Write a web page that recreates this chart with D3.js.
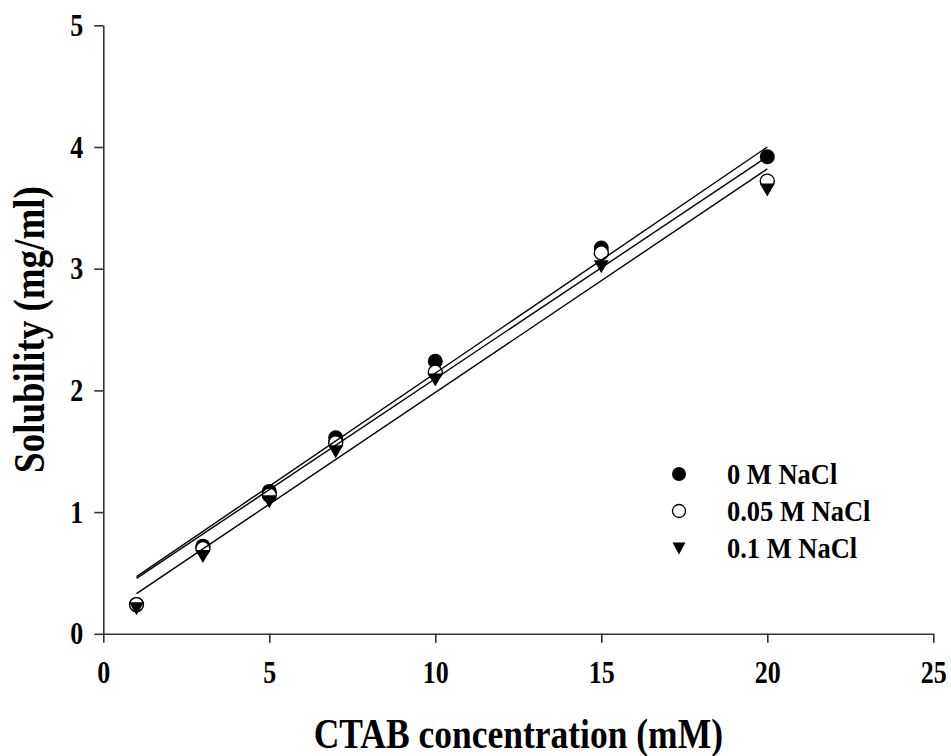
<!DOCTYPE html>
<html>
<head>
<meta charset="utf-8">
<script src="https://cdn.jsdelivr.net/npm/d3@7"></script>
<style>
  html, body { margin: 0; padding: 0; background: #fff; }
  svg { display: block; }
  text { font-family: "Liberation Serif", "Times New Roman", serif; font-weight: bold; fill: #000; }
</style>
</head>
<body>
<svg id="chart" width="951" height="756"></svg>
<script>
// CTAB concentration (mM)
const concentrations = [1, 3, 5, 7, 10, 15, 20];

// Solubility (mg/ml) per NaCl level
const solubility0M   = [0.24, 0.72, 1.17, 1.61, 2.24, 3.17, 3.92];
const solubility005M = [0.24, 0.70, 1.14, 1.57, 2.15, 3.13, 3.72];
const solubility01M  = [0.21, 0.64, 1.09, 1.50, 2.09, 3.02, 3.65];

// Linear fit lines: value at the first and last concentration
const fitX     = [1, 20];
const fitStart = [0.47, 0.455, 0.33];
const fitEnd   = [4.00, 3.92, 3.82];

const seriesNames = ["0 M NaCl", "0.05 M NaCl", "0.1 M NaCl"];
const seriesShapes = ["filled", "open", "triangle"];

const xTicks = [0, 5, 10, 15, 20, 25];
const yTicks = [0, 1, 2, 3, 4, 5];

// Glyphs are drawn a little taller than the stock serif face
const STRETCH = 1.18;

const svg = d3.select("#chart");

const x = d3.scaleLinear().domain([0, 25]).range([103.3, 933.3]);
const y = d3.scaleLinear().domain([0, 5]).range([633.8, 25.3]);

// Axes
const xAxis = svg.append("g")
  .attr("transform", `translate(0,${y(0)})`)
  .call(d3.axisBottom(x).tickValues(xTicks).tickFormat(d3.format("d")).tickSize(9).tickSizeOuter(0));
const yAxis = svg.append("g")
  .attr("transform", `translate(${x(0)},0)`)
  .call(d3.axisLeft(y).tickValues(yTicks).tickFormat(d3.format("d")).tickSize(9).tickSizeOuter(0));

[xAxis, yAxis].forEach(g => {
  g.select(".domain").attr("stroke", "#333").attr("stroke-width", 1.6);
  g.selectAll(".tick line").attr("stroke", "#333").attr("stroke-width", 1.6);
  g.selectAll(".tick text")
    .attr("fill", "#000")
    .attr("x", 0).attr("y", 0).attr("dy", null)
    .style("font-family", "'Liberation Serif', 'Times New Roman', serif")
    .style("font-weight", "bold")
    .style("font-size", "26px");
});
xAxis.selectAll(".tick text")
  .attr("transform", `translate(0,49) scale(1,${STRETCH})`);
yAxis.selectAll(".tick text")
  .attr("text-anchor", "end")
  .attr("transform", `translate(-20,10) scale(1,${STRETCH})`);

// Axis titles
svg.append("text")
  .attr("transform", `translate(${(x(0) + x(25)) / 2},748) scale(1,${STRETCH})`)
  .attr("text-anchor", "middle")
  .style("font-size", "35.5px")
  .text("CTAB concentration (mM)");

svg.append("text")
  .attr("transform", `translate(44,${(y(0) + y(5)) / 2}) rotate(-90) scale(1,${STRETCH})`)
  .attr("text-anchor", "middle")
  .style("font-size", "37px")
  .text("Solubility (mg/ml)");

// Markers
const seriesValues = [solubility0M, solubility005M, solubility01M];
const triPath = "M-7.5,-6L7.5,-6L0,7Z";

function drawMarker(g, shape, cx, cy) {
  if (shape === "filled") {
    g.append("circle").attr("cx", cx).attr("cy", cy).attr("r", 7.5).attr("fill", "#000");
  } else if (shape === "open") {
    g.append("circle").attr("cx", cx).attr("cy", cy).attr("r", 7)
      .attr("fill", "#fff").attr("stroke", "#000").attr("stroke-width", 1.4);
  } else {
    g.append("path").attr("d", triPath).attr("transform", `translate(${cx},${cy})`).attr("fill", "#000");
  }
}

const markers = svg.append("g");
seriesValues.forEach((vals, i) => {
  const g = markers.append("g");
  vals.forEach((v, j) => drawMarker(g, seriesShapes[i], x(concentrations[j]), y(v)));
});

// Fit lines
const line = d3.line().x(d => x(d[0])).y(d => y(d[1]));
svg.append("g").selectAll("path")
  .data(fitStart.map((s, i) => [[fitX[0], s], [fitX[1], fitEnd[i]]]))
  .join("path")
  .attr("d", line)
  .attr("fill", "none")
  .attr("stroke", "#000")
  .attr("stroke-width", 1.4);

// Legend
const legend = svg.append("g");
const legendY = [474, 511, 548];
seriesNames.forEach((name, i) => {
  const g = legend.append("g");
  if (seriesShapes[i] === "triangle") {
    g.append("path").attr("d", "M-6.5,-5.5L6.5,-5.5L0,6.5Z").attr("transform", `translate(679,${legendY[i]})`).attr("fill", "#000");
  } else if (seriesShapes[i] === "open") {
    g.append("circle").attr("cx", 679).attr("cy", legendY[i]).attr("r", 6.5)
      .attr("fill", "#fff").attr("stroke", "#000").attr("stroke-width", 1.3);
  } else {
    g.append("circle").attr("cx", 679).attr("cy", legendY[i]).attr("r", 7).attr("fill", "#000");
  }
  g.append("text")
    .attr("transform", `translate(727,${legendY[i] + 10}) scale(1,1.1)`)
    .style("font-size", "26.5px")
    .text(name);
});
</script>
</body>
</html>
